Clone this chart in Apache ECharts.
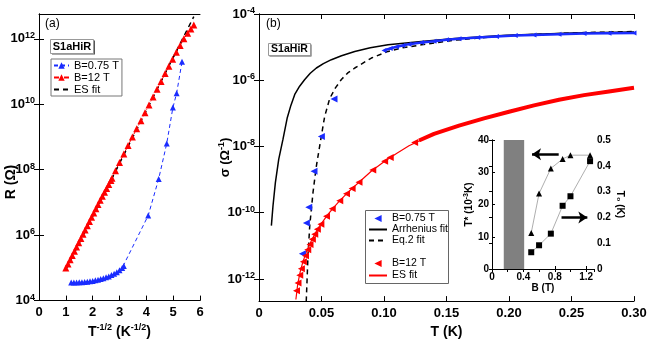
<!DOCTYPE html>
<html>
<head>
<meta charset="utf-8">
<script src="https://cdn.jsdelivr.net/npm/echarts@6/dist/echarts.min.js"></script>
<style>
  html, body { margin: 0; padding: 0; background: #fff; }
  #chart { width: 654px; height: 344px; }
</style>
</head>
<body>
<div id="chart"></div>
<script>
// ---- panel (a): R vs T^-1/2 ----
const aBlue = [
  [1.20, 3.55e4], [1.30, 3.55e4], [1.40, 3.55e4], [1.50, 3.63e4], [1.60, 3.63e4],
  [1.70, 3.72e4], [1.80, 3.80e4], [1.90, 3.89e4], [2.00, 3.98e4], [2.10, 4.17e4],
  [2.20, 4.37e4], [2.30, 4.57e4], [2.40, 4.79e4], [2.50, 5.13e4], [2.60, 5.50e4],
  [2.70, 6.03e4], [2.80, 6.61e4], [2.90, 7.41e4], [3.00, 8.51e4], [3.10, 1.00e5],
  [3.16, 1.15e5], [4.07, 3.98e6], [4.46, 5.25e7], [4.76, 6.31e8], [4.99, 7.94e9],
  [5.13, 2.19e10], [5.33, 2.00e11]
];
const aRed = [
  [1.00, 1.00e5], [1.08, 1.32e5], [1.16, 1.78e5], [1.24, 2.40e5], [1.32, 3.24e5],
  [1.40, 4.37e5], [1.48, 5.89e5], [1.56, 7.94e5], [1.64, 1.07e6], [1.72, 1.45e6],
  [1.80, 1.95e6], [1.88, 2.63e6], [1.96, 3.55e6], [2.04, 4.79e6], [2.12, 6.46e6],
  [2.20, 8.71e6], [2.28, 1.17e7], [2.36, 1.55e7], [2.44, 2.04e7], [2.52, 2.69e7],
  [2.60, 3.55e7], [2.68, 4.68e7], [2.72, 5.50e7], [2.85, 9.33e7], [3.00, 1.66e8],
  [3.16, 3.02e8], [3.32, 5.50e8], [3.48, 1.00e9], [3.64, 1.78e9], [3.80, 3.16e9],
  [3.95, 5.50e9], [4.10, 9.55e9], [4.25, 1.66e10], [4.40, 2.88e10], [4.55, 5.01e10],
  [4.70, 8.71e10], [4.84, 1.45e11], [4.98, 2.40e11], [5.12, 3.89e11], [5.26, 6.31e11],
  [5.40, 1.00e12], [5.54, 1.48e12], [5.66, 2.00e12], [5.77, 2.63e12]
];
const aFit = [[1.03, 1.0e5], [5.77, 4.79e12]];
const aYTicks = [1e4, 1e6, 1e8, 1e10, 1e12];

// ---- panel (b): sigma vs T ----
const bArrh = [
  [0.0099, 4.07e-11], [0.0112, 1.62e-10], [0.0131, 8.13e-10], [0.0158, 4.17e-9],
  [0.0192, 1.66e-8], [0.0225, 7.08e-8], [0.0255, 1.74e-7], [0.0286, 3.72e-7],
  [0.0325, 6.61e-7], [0.0366, 1.05e-6], [0.041, 1.62e-6], [0.0459, 2.34e-6],
  [0.0515, 3.16e-6], [0.0579, 4.17e-6], [0.066, 5.50e-6], [0.0766, 7.41e-6],
  [0.089, 9.55e-6], [0.1032, 1.17e-5], [0.1299, 1.48e-5], [0.1566, 1.82e-5],
  [0.198, 2.29e-5], [0.251, 2.69e-5], [0.300, 2.88e-5]
];
const bEq2 = [
  [0.0378, 2.1e-13], [0.0392, 5.13e-12], [0.0406, 4.07e-11], [0.0432, 4.07e-10],
  [0.0459, 2.57e-9], [0.0499, 2.09e-8], [0.0525, 7.94e-8], [0.0566, 2.82e-7],
  [0.0610, 5.75e-7], [0.0659, 1.05e-6], [0.0710, 1.66e-6], [0.0766, 2.34e-6],
  [0.0899, 4.68e-6], [0.1032, 7.41e-6], [0.115, 9.55e-6], [0.130, 1.17e-5],
  [0.1566, 1.62e-5], [0.190, 2.09e-5], [0.2246, 2.45e-5], [0.260, 2.75e-5], [0.300, 2.95e-5]
];
const bBlueSparse = [
  [0.0347, 5.75e-12], [0.0379, 4.90e-11], [0.0398, 1.45e-10], [0.0440, 1.78e-9],
  [0.0499, 2.00e-8], [0.0600, 2.69e-7]
];
const bBlueDense = [
  [0.100, 7.94e-6], [0.105, 9.12e-6], [0.110, 1.02e-5], [0.115, 1.12e-5], [0.120, 1.23e-5],
  [0.130, 1.38e-5], [0.140, 1.51e-5], [0.150, 1.66e-5], [0.160, 1.78e-5], [0.175, 1.95e-5],
  [0.190, 2.09e-5], [0.205, 2.24e-5], [0.220, 2.34e-5], [0.240, 2.45e-5], [0.260, 2.57e-5],
  [0.280, 2.63e-5], [0.300, 2.69e-5]
];
const bRedSparse = [
  [0.0300, 4.37e-13], [0.0312, 7.59e-13], [0.0326, 1.29e-12], [0.0339, 2.04e-12],
  [0.0355, 3.31e-12], [0.0372, 5.01e-12], [0.0390, 7.59e-12], [0.0408, 1.10e-11],
  [0.0427, 1.58e-11], [0.0446, 2.24e-11], [0.0467, 3.16e-11], [0.0495, 4.47e-11],
  [0.0540, 7.76e-11], [0.0586, 1.32e-10], [0.0646, 2.29e-10], [0.0700, 3.72e-10],
  [0.0745, 5.37e-10], [0.0800, 8.32e-10], [0.0910, 1.95e-9], [0.1005, 3.55e-9],
  [0.1050, 4.68e-9], [0.1245, 1.32e-8]
];
const bRedDense = [
  [0.128, 1.51e-8], [0.14, 2.40e-8], [0.16, 4.27e-8], [0.18, 7.08e-8], [0.20, 1.12e-7],
  [0.22, 1.74e-7], [0.24, 2.57e-7], [0.26, 3.55e-7], [0.28, 4.57e-7], [0.30, 5.89e-7]
];
const bRedFit = [
  [0.0295, 2.4e-13], [0.031, 7.08e-13], [0.033, 1.66e-12], [0.035, 3.16e-12],
  [0.0375, 6.03e-12], [0.040, 1.0e-11], [0.0425, 1.58e-11], [0.045, 2.4e-11],
  [0.0475, 3.47e-11], [0.050, 4.79e-11], [0.055, 8.71e-11], [0.060, 1.48e-10],
  [0.065, 2.4e-10], [0.070, 3.72e-10], [0.075, 5.62e-10], [0.080, 8.32e-10],
  [0.090, 1.82e-9], [0.100, 3.47e-9], [0.110, 6.17e-9], [0.120, 1.05e-8],
  [0.14, 2.40e-8], [0.16, 4.27e-8], [0.18, 7.08e-8], [0.20, 1.12e-7], [0.22, 1.74e-7],
  [0.24, 2.57e-7], [0.26, 3.55e-7], [0.28, 4.57e-7], [0.30, 5.89e-7]
];
const bYTicks = [1e-12, 1e-10, 1e-8, 1e-6, 1e-4];

// ---- inset: T* and T0 vs B ----
const insetB = [0.5, 0.6, 0.75, 0.9, 1.0, 1.25];
const insetTstar = [11.2, 23.4, 31.2, 34.1, 35.3, 35.3];
const insetT0 = [0.065, 0.092, 0.137, 0.245, 0.282, 0.418];

const FONT = '"Liberation Sans", Arial, sans-serif';
const BLUE = '#1a2cff';
const RED = '#ff0000';

const chart = echarts.init(document.getElementById('chart'));

const supRich = (size, supSize) => ({
  n: { fontFamily: FONT, fontSize: size, fontWeight: 'bold', color: '#000', lineHeight: size + 3 },
  s: { fontFamily: FONT, fontSize: supSize, fontWeight: 'bold', color: '#000', verticalAlign: 'top', lineHeight: size + 3 }
});
const powLabel = v => '{n|10}{s|' + Math.round(Math.log10(v)) + '}';

const axisLine = { show: true, lineStyle: { color: '#000', width: 1 } };
const tickIn = { show: true, inside: true, length: 5, lineStyle: { color: '#000', width: 1 } };
// legend entry with line only (no marker)
const lineOnly = name => ({ name: name, itemStyle: { opacity: 0 } });

function logY(grid, min, max, ticks, pos, labels) {
  return {
    type: 'log', gridIndex: grid, position: pos, min: min, max: max, logBase: 10,
    axisLine: axisLine, splitLine: { show: false },
    axisTick: Object.assign({ customValues: ticks }, tickIn),
    axisLabel: labels ? {
      show: true, customValues: ticks, margin: 4, formatter: powLabel, rich: supRich(13, 9)
    } : { show: false }
  };
}

const option = {
  animation: false,
  backgroundColor: '#fff',
  grid: [
    { left: 39, top: 14, width: 161, height: 289 },
    { left: 259, top: 14, width: 375, height: 288 },
    { left: 492, top: 140, width: 102, height: 129 }
  ],
  xAxis: [
    {
      type: 'value', gridIndex: 0, min: 0, max: 6, interval: 1,
      axisLine: axisLine, axisTick: tickIn, splitLine: { show: false },
      axisLabel: { margin: 5, fontFamily: FONT, fontSize: 13, fontWeight: 'bold', color: '#000' },
      name: '{n|T}{s|-1/2}{n| (K}{s|-1/2}{n|)}', nameLocation: 'middle', nameGap: 17,
      nameTextStyle: { rich: supRich(14, 9) }
    },
    { type: 'value', gridIndex: 0, position: 'top', min: 0, max: 6, axisLine: axisLine,
      axisTick: { show: false }, axisLabel: { show: false }, splitLine: { show: false } },
    {
      type: 'value', gridIndex: 1, min: 0, max: 0.3, interval: 0.05,
      axisLine: axisLine, axisTick: tickIn, splitLine: { show: false },
      axisLabel: { margin: 6, fontFamily: FONT, fontSize: 13, fontWeight: 'bold', color: '#000',
        formatter: v => v === 0 ? '0' : v.toFixed(2) },
      name: 'T (K)', nameLocation: 'middle', nameGap: 21,
      nameTextStyle: { fontFamily: FONT, fontSize: 14, fontWeight: 'bold', color: '#000' }
    },
    { type: 'value', gridIndex: 1, position: 'top', min: 0, max: 0.3, interval: 0.05,
      axisLine: axisLine, axisTick: tickIn, axisLabel: { show: false }, splitLine: { show: false } },
    {
      type: 'value', gridIndex: 2, min: 0, max: 1.3, interval: 0.4,
      axisLine: axisLine, axisTick: Object.assign({}, tickIn, { length: 3 }), splitLine: { show: false },
      axisLabel: { margin: 3, showMaxLabel: false, fontFamily: FONT, fontSize: 10, fontWeight: 'bold', color: '#000',
        formatter: v => v === 0 ? '0' : v.toFixed(1) },
      name: 'B (T)', nameLocation: 'middle', nameGap: 14,
      nameTextStyle: { fontFamily: FONT, fontSize: 10, fontWeight: 'bold', color: '#000' }
    },
    { type: 'value', gridIndex: 2, position: 'top', min: 0, max: 1.3, interval: 0.2,
      axisLine: axisLine, axisTick: Object.assign({}, tickIn, { length: 3 }),
      axisLabel: { show: false }, splitLine: { show: false } }
  ],
  yAxis: [
    logY(0, 1e4, 5.75e12, aYTicks, 'left', true),
    logY(0, 1e4, 5.75e12, aYTicks, 'right', false),
    Object.assign(logY(1, 2.14e-13, 1e-4, bYTicks, 'left', true), {
      name: '{n|σ (Ω}{s|-1}{n|)}', nameLocation: 'middle', nameGap: 26, nameMoveOverlap: false,
      nameTextStyle: { rich: supRich(13, 9) }
    }),
    logY(1, 2.14e-13, 1e-4, bYTicks, 'right', false),
    {
      type: 'value', gridIndex: 2, position: 'left', min: 0, max: 40, interval: 10,
      axisLine: axisLine, axisTick: Object.assign({}, tickIn, { length: 3 }), splitLine: { show: false },
      axisLabel: { margin: 3, fontFamily: FONT, fontSize: 10, fontWeight: 'bold', color: '#000' },
      name: '{n|T* (10}{s|-3}{n|K)}', nameLocation: 'middle', nameGap: 16,
      nameTextStyle: { rich: supRich(10, 7) }
    },
    {
      type: 'value', gridIndex: 2, position: 'right', min: 0, max: 0.5, interval: 0.1,
      axisLine: axisLine, axisTick: Object.assign({}, tickIn, { length: 3 }), splitLine: { show: false },
      axisLabel: { margin: 3, fontFamily: FONT, fontSize: 10, fontWeight: 'bold', color: '#000',
        formatter: v => v === 0 ? '0' : v.toFixed(1) },
      name: 'T₀ (K)', nameLocation: 'middle', nameGap: 20, nameRotate: -90,
      nameTextStyle: { fontFamily: FONT, fontSize: 10, fontWeight: 'bold', color: '#000' }
    }
  ],
  legend: [
    {
      data: ['B=0.75 T', 'B=12 T', lineOnly('ES fit')], orient: 'vertical', left: 51, top: 59,
      itemWidth: 15, itemHeight: 8, itemGap: 1, padding: [1, 3, 1, 2],
      borderColor: '#777', borderWidth: 1, backgroundColor: '#fff',
      textStyle: { fontFamily: FONT, fontSize: 11, lineHeight: 11, color: '#000' }
    },
    {
      data: ['B=0.75 T ', lineOnly('Arrhenius fit'), lineOnly('Eq.2 fit')], orient: 'vertical', left: 368, top: 213,
      itemWidth: 18, itemHeight: 9, itemGap: 0, padding: 0,
      textStyle: { fontFamily: FONT, fontSize: 10.5, lineHeight: 11, color: '#000' }
    },
    {
      data: ['B=12 T ', lineOnly('ES fit ')], orient: 'vertical', left: 368, top: 258,
      itemWidth: 18, itemHeight: 9, itemGap: 1, padding: 0,
      textStyle: { fontFamily: FONT, fontSize: 10.5, lineHeight: 11, color: '#000' }
    }
  ],
  graphic: [
    { type: 'text', left: 45, top: 18, style: { text: '(a)', font: '12px ' + FONT, fill: '#000' } },
    { type: 'text', left: 266, top: 18, style: { text: '(b)', font: '12px ' + FONT, fill: '#000' } },
    { type: 'text', x: 11, y: 182, rotation: Math.PI / 2,
      style: { text: 'R (Ω)', font: 'bold 14px ' + FONT, fill: '#000', align: 'center', verticalAlign: 'middle' } },
    { type: 'rect', shape: { x: 52, y: 40.5, width: 43, height: 14 }, style: { fill: '#555' } },
    { type: 'rect', shape: { x: 50.5, y: 39.5, width: 43, height: 14 }, style: { fill: '#fff', stroke: '#999', lineWidth: 1 } },
    { type: 'text', x: 72, y: 46.5, style: { text: 'S1aHiR', font: 'bold 11px ' + FONT, fill: '#000', align: 'center', verticalAlign: 'middle' } },
    { type: 'rect', shape: { x: 269.5, y: 44.5, width: 42, height: 12 }, style: { fill: '#555' } },
    { type: 'rect', shape: { x: 268.5, y: 43.5, width: 42, height: 12 }, style: { fill: '#fff', stroke: '#999', lineWidth: 1 } },
    { type: 'text', x: 289.5, y: 49.5, style: { text: 'S1aHiR', font: 'bold 10.5px ' + FONT, fill: '#000', align: 'center', verticalAlign: 'middle' } },
    { type: 'rect', z: -1, shape: { x: 365.5, y: 210.5, width: 83, height: 73 }, style: { fill: '#fff', stroke: '#666', lineWidth: 1 } }
  ],
  series: [
    // panel (a)
    {
      name: 'B=0.75 T', type: 'line', xAxisIndex: 0, yAxisIndex: 0, data: aBlue,
      symbol: 'triangle', symbolSize: 6, itemStyle: { color: BLUE },
      lineStyle: { color: BLUE, width: 1, type: [4, 3] }
    },
    {
      name: 'B=12 T', type: 'line', xAxisIndex: 0, yAxisIndex: 0, data: aRed,
      symbol: 'triangle', symbolSize: 7, itemStyle: { color: RED },
      lineStyle: { color: RED, width: 1, type: [5, 2, 1, 2] }
    },
    {
      name: 'ES fit', type: 'line', xAxisIndex: 0, yAxisIndex: 0, data: aFit, symbol: 'none', z: 3,
      itemStyle: { color: '#000' }, lineStyle: { color: '#000', width: 1.5, type: [5, 4] }
    },
    // panel (b)
    {
      name: 'Arrhenius fit', type: 'line', xAxisIndex: 2, yAxisIndex: 2, data: bArrh, symbol: 'none',
      itemStyle: { color: '#000' }, lineStyle: { color: '#000', width: 1.5 }
    },
    {
      name: 'Eq.2 fit', type: 'line', xAxisIndex: 2, yAxisIndex: 2, data: bEq2, symbol: 'none',
      itemStyle: { color: '#000' }, lineStyle: { color: '#000', width: 1.5, type: [5, 4] }
    },
    {
      name: 'B=0.75 T ', type: 'line', xAxisIndex: 2, yAxisIndex: 2, data: bBlueSparse,
      symbol: 'triangle', symbolRotate: 90, symbolSize: 7, itemStyle: { color: BLUE },
      lineStyle: { width: 0, opacity: 0 }
    },
    {
      name: 'blue dense', type: 'line', xAxisIndex: 2, yAxisIndex: 2, data: bBlueDense,
      symbol: 'triangle', symbolRotate: 90, symbolSize: 5, itemStyle: { color: BLUE },
      lineStyle: { color: BLUE, width: 2.5 }
    },
    {
      name: 'B=12 T ', type: 'line', xAxisIndex: 2, yAxisIndex: 2, data: bRedSparse,
      symbol: 'triangle', symbolRotate: 90, symbolSize: 7, itemStyle: { color: RED },
      lineStyle: { width: 0, opacity: 0 }
    },
    {
      name: 'red dense', type: 'line', xAxisIndex: 2, yAxisIndex: 2, data: bRedDense, symbol: 'none',
      lineStyle: { color: RED, width: 4 }
    },
    {
      name: 'ES fit ', type: 'line', xAxisIndex: 2, yAxisIndex: 2, data: bRedFit, symbol: 'none',
      itemStyle: { color: RED }, lineStyle: { color: RED, width: 1.2 }
    },
    // inset
    {
      name: 'T*', type: 'line', xAxisIndex: 4, yAxisIndex: 4,
      data: insetB.map((b, i) => [b, insetTstar[i]]),
      symbol: 'triangle', symbolSize: 6, itemStyle: { color: '#000' },
      lineStyle: { color: '#999', width: 0.8 },
      markArea: { silent: true, itemStyle: { color: '#808080' }, data: [[{ xAxis: 0.15 }, { xAxis: 0.41 }]] },
      markLine: {
        silent: true, symbol: ['none', 'arrow'], symbolSize: 9, label: { show: false },
        lineStyle: { color: '#000', width: 2.5, type: 'solid' },
        data: [[{ coord: [0.85, 35.6] }, { coord: [0.51, 35.6] }]]
      }
    },
    {
      name: 'T0', type: 'line', xAxisIndex: 4, yAxisIndex: 5,
      data: insetB.map((b, i) => [b, insetT0[i]]),
      symbol: 'rect', symbolSize: 6, itemStyle: { color: '#000' },
      lineStyle: { color: '#999', width: 0.8 },
      markLine: {
        silent: true, symbol: ['none', 'arrow'], symbolSize: 9, label: { show: false },
        lineStyle: { color: '#000', width: 2.5, type: 'solid' },
        data: [[{ coord: [0.886, 0.2] }, { coord: [1.215, 0.2] }]]
      }
    }
  ]
};

chart.setOption(option);
</script>
</body>
</html>
